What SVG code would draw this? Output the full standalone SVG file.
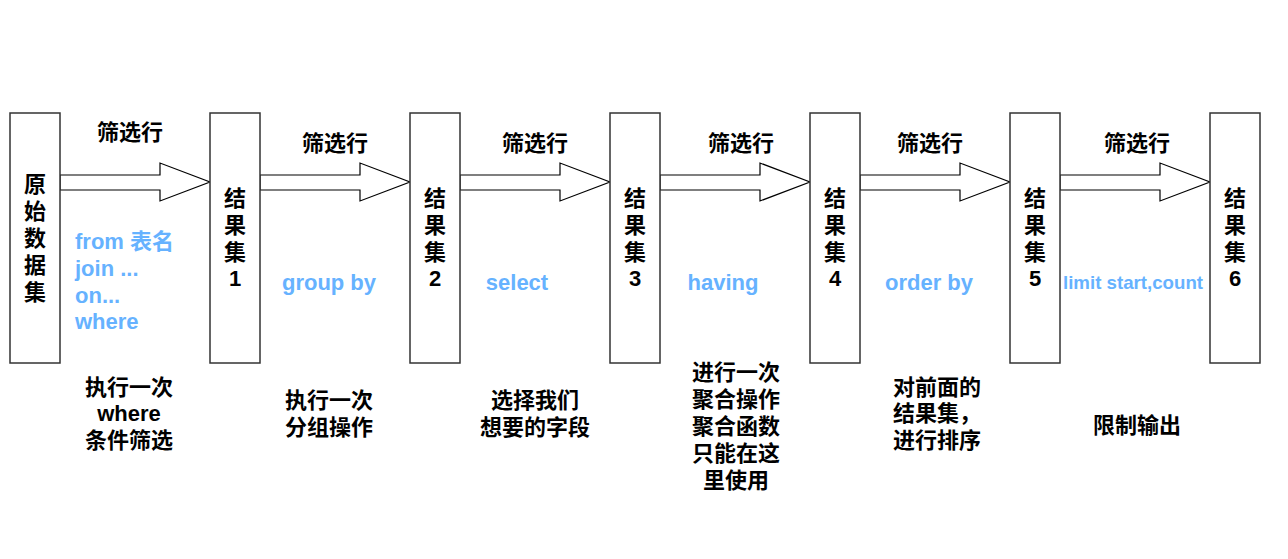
<svg xmlns="http://www.w3.org/2000/svg" width="1288" height="559" viewBox="0 0 1288 559">
<defs>
<style>
.box{fill:#fff;stroke:#333;stroke-width:1.5}
.arr{fill:#fff;stroke:#000;stroke-width:1.2;stroke-linejoin:miter}
.t{font-family:"Liberation Sans","Noto Sans CJK SC",sans-serif;font-weight:bold;font-size:22px;fill:#000;text-anchor:middle}
.b{font-family:"Liberation Sans","Noto Sans CJK SC",sans-serif;font-weight:bold;font-size:22px;fill:#66b2ff}
.bm{text-anchor:middle}
</style>
<path id="ar" class="arr" d="M0,175 H100 V163 L150,182 L100,201 V190 H0 Z"/>
</defs>
<rect width="1288" height="559" fill="#fff"/>
<g id="connectors">
<use href="#ar" x="60"/>
<use href="#ar" x="260"/>
<use href="#ar" x="460"/>
<use href="#ar" x="660"/>
<use href="#ar" x="860"/>
<use href="#ar" x="1060"/>
<text class="t" x="130" y="140">筛选行</text>
<text class="t" x="335" y="151">筛选行</text>
<text class="t" x="535" y="151">筛选行</text>
<text class="t" x="741" y="151">筛选行</text>
<text class="t" x="930" y="151">筛选行</text>
<text class="t" x="1137" y="151">筛选行</text>
<text class="b" x="75" y="249">from 表名</text>
<text class="b" x="75" y="276">join ...</text>
<text class="b" x="75" y="303">on...</text>
<text class="b" x="75" y="329">where</text>
<text class="b bm" x="329" y="290">group by</text>
<text class="b bm" x="517" y="290">select</text>
<text class="b bm" x="723" y="290">having</text>
<text class="b bm" x="929" y="290">order by</text>
<text class="b bm" x="1133" y="289" style="font-size:19px" textLength="140" lengthAdjust="spacingAndGlyphs">limit start,count</text>
</g>
<g id="n0">
<rect class="box" x="10" y="113" width="50" height="250"/>
<text class="t"><tspan x="35" y="192">原</tspan><tspan x="35" y="219">始</tspan><tspan x="35" y="246">数</tspan><tspan x="35" y="273">据</tspan><tspan x="35" y="300">集</tspan></text>
</g>
<g id="n1">
<rect class="box" x="210" y="113" width="50" height="250"/>
<text class="t"><tspan x="235" y="206">结</tspan><tspan x="235" y="233">果</tspan><tspan x="235" y="260">集</tspan><tspan x="235" y="286">1</tspan></text>
</g>
<g id="n2">
<rect class="box" x="410" y="113" width="50" height="250"/>
<text class="t"><tspan x="435" y="206">结</tspan><tspan x="435" y="233">果</tspan><tspan x="435" y="260">集</tspan><tspan x="435" y="286">2</tspan></text>
</g>
<g id="n3">
<rect class="box" x="610" y="113" width="50" height="250"/>
<text class="t"><tspan x="635" y="206">结</tspan><tspan x="635" y="233">果</tspan><tspan x="635" y="260">集</tspan><tspan x="635" y="286">3</tspan></text>
</g>
<g id="n4">
<rect class="box" x="810" y="113" width="50" height="250"/>
<text class="t"><tspan x="835" y="206">结</tspan><tspan x="835" y="233">果</tspan><tspan x="835" y="260">集</tspan><tspan x="835" y="286">4</tspan></text>
</g>
<g id="n5">
<rect class="box" x="1010" y="113" width="50" height="250"/>
<text class="t"><tspan x="1035" y="206">结</tspan><tspan x="1035" y="233">果</tspan><tspan x="1035" y="260">集</tspan><tspan x="1035" y="286">5</tspan></text>
</g>
<g id="n6">
<rect class="box" x="1210" y="113" width="50" height="250"/>
<text class="t"><tspan x="1235" y="206">结</tspan><tspan x="1235" y="233">果</tspan><tspan x="1235" y="260">集</tspan><tspan x="1235" y="286">6</tspan></text>
</g>
<g id="notes">
<text class="t"><tspan x="129" y="395">执行一次</tspan><tspan x="129" y="421">where</tspan><tspan x="129" y="448">条件筛选</tspan></text>
<text class="t"><tspan x="329" y="408">执行一次</tspan><tspan x="329" y="435">分组操作</tspan></text>
<text class="t"><tspan x="535" y="408">选择我们</tspan><tspan x="535" y="435">想要的字段</tspan></text>
<text class="t"><tspan x="736" y="380">进行一次</tspan><tspan x="736" y="407">聚合操作</tspan><tspan x="736" y="434">聚合函数</tspan><tspan x="736" y="461">只能在这</tspan><tspan x="736" y="488">里使用</tspan></text>
<text class="t"><tspan x="937" y="395">对前面的</tspan><tspan x="937" y="421">结果集，</tspan><tspan x="937" y="448">进行排序</tspan></text>
<text class="t"><tspan x="1137" y="433">限制输出</tspan></text>
</g>
</svg>
